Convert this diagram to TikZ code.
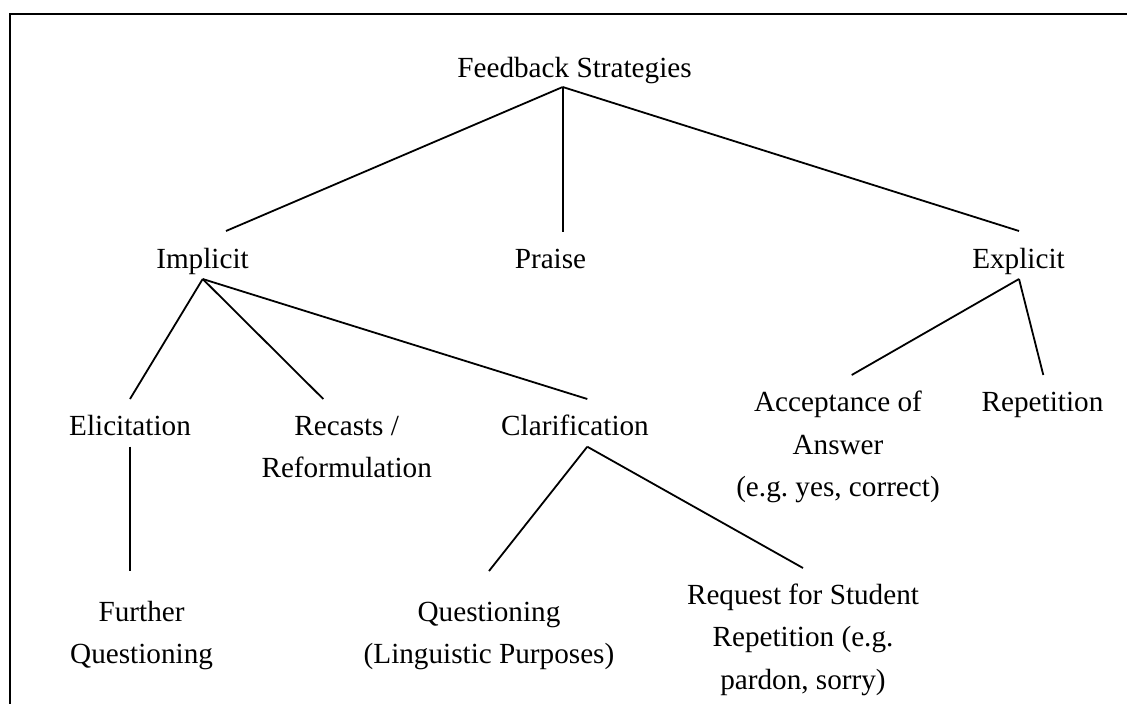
\documentclass[tikz,border=0pt]{standalone}
\usepackage{fontspec}
\setmainfont{Liberation Serif}
\frenchspacing
\begin{document}
\begin{tikzpicture}[x=1pt,y=-1pt,
  lbl/.style={inner sep=0pt, anchor=base, font=\fontsize{29.2}{42.5}\selectfont},
  edge/.style={line width=1.8pt, black}]
\useasboundingbox (0,0) rectangle (1127,704);
\draw[line width=2pt] (10,13.7) rectangle (1140,720);
\newcommand{\ml}[1]{\begin{tabular}[t]{@{}c@{}}#1\end{tabular}}
% nodes
\node[lbl] (root) at (574.5,77) {Feedback Strategies};
\node[lbl] (impl) at (202.5,268) {Implicit};
\node[lbl] (praise) at (550.5,268) {Praise};
\node[lbl] (expl) at (1018.5,268) {Explicit};
\node[lbl] (elic) at (130,435) {Elicitation};
\node[lbl] (recast) at (346.7,435) {\ml{Recasts /\\Reformulation}};
\node[lbl] (clar) at (575,435) {Clarification};
\node[lbl] (accept) at (838,411.7) {\ml{Acceptance of\\Answer\\(e.g. yes, correct)}};
\node[lbl] (rep) at (1042.5,411.7) {Repetition};
\node[lbl] (further) at (141.6,621) {\ml{Further\\Questioning}};
\node[lbl] (quest) at (489,621) {\ml{Questioning\\(Linguistic Purposes)}};
\node[lbl] (request) at (803,604) {\ml{Request for Student\\Repetition (e.g.\\pardon, sorry)}};
% connectors
\draw[edge] ([xshift=-11.8pt,yshift=-10pt]root.base) -- ([xshift=23.5pt,yshift=37pt]impl.base);
\draw[edge] ([xshift=-11.8pt,yshift=-10pt]root.base) -- ([xshift=12.2pt,yshift=36.3pt]praise.base);
\draw[edge] ([xshift=-11.8pt,yshift=-10pt]root.base) -- ([xshift=0.5pt,yshift=37pt]expl.base);
\draw[edge] ([xshift=0.2pt,yshift=-11pt]impl.base) -- ([yshift=36pt]elic.base);
\draw[edge] ([xshift=0.2pt,yshift=-11pt]impl.base) -- ([xshift=-23.4pt,yshift=36pt]recast.base);
\draw[edge] ([xshift=0.2pt,yshift=-11pt]impl.base) -- ([xshift=12.3pt,yshift=36pt]clar.base);
\draw[edge] ([xshift=0.5pt,yshift=-11pt]expl.base) -- ([xshift=13.7pt,yshift=36.7pt]accept.base);
\draw[edge] ([xshift=0.5pt,yshift=-11pt]expl.base) -- ([xshift=0.8pt,yshift=36.7pt]rep.base);
\draw[edge] ([yshift=-11.7pt]elic.base) -- ([xshift=-11.6pt,yshift=50pt]further.base);
\draw[edge] ([xshift=12.3pt,yshift=-11.7pt]clar.base) -- ([yshift=50pt]quest.base);
\draw[edge] ([xshift=12.3pt,yshift=-11.7pt]clar.base) -- ([yshift=36pt]request.base);
\end{tikzpicture}
\end{document}
